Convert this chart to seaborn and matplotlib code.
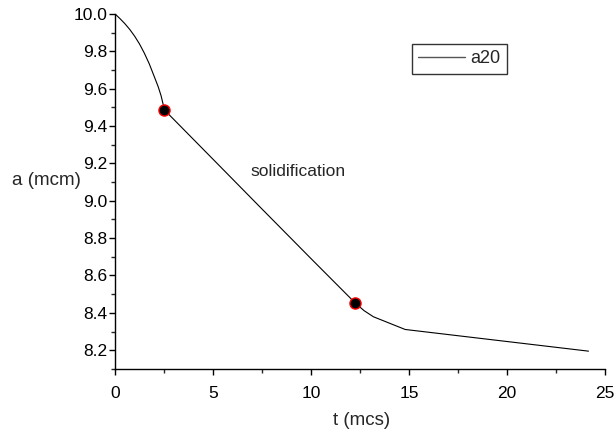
import matplotlib
matplotlib.use("Agg")
import matplotlib.pyplot as plt
import seaborn as sns
import pandas as pd
from matplotlib.ticker import MultipleLocator

# data
t_values = [0.0, 0.25, 0.5, 0.75, 1.0, 1.25, 1.5, 1.75, 2.0, 2.2, 2.35, 2.45, 2.52,
            5.0, 7.4, 10.0, 12.24, 12.7, 13.18, 14.8, 24.15]
a_values = [10.0, 9.975, 9.948, 9.917, 9.881, 9.839, 9.789, 9.732, 9.665, 9.611,
            9.562, 9.518, 9.486, 9.222, 8.966, 8.69, 8.454, 8.412, 8.379, 8.311, 8.195]
marker_t = [2.52, 12.24]
marker_a = [9.486, 8.454]
series_name = "a20"
annotation = "solidification"
annotation_pos = (9.35, 9.155)

sns.set_style("ticks")
plt.rcParams["font.family"] = ["Liberation Sans", "DejaVu Sans"]

df = pd.DataFrame({"t": t_values, "a": a_values, "series": series_name})

fig = plt.figure(figsize=(6.15, 4.34), dpi=100)
ax = fig.add_axes([0.187, 0.150, 0.797, 0.818])

sns.lineplot(data=df, x="t", y="a", color="black", linewidth=0.8, ax=ax,
             label=series_name, sort=False)
ax.plot(marker_t, marker_a, linestyle="none", marker="o", markersize=8,
        markerfacecolor="black", markeredgecolor="red", markeredgewidth=1.0,
        zorder=5)

ax.set_xlim(0, 25)
ax.set_ylim(8.1, 10.0)
ax.xaxis.set_major_locator(MultipleLocator(5))
ax.xaxis.set_minor_locator(MultipleLocator(2.5))
ax.yaxis.set_major_locator(MultipleLocator(0.2))
ax.yaxis.set_minor_locator(MultipleLocator(0.1))
ax.yaxis.set_major_formatter(matplotlib.ticker.FormatStrFormatter("%.1f"))

for s in ["top", "right"]:
    ax.spines[s].set_visible(False)
for s in ["left", "bottom"]:
    ax.spines[s].set_linewidth(1.0)
    ax.spines[s].set_color("black")

ax.tick_params(axis="both", which="major", direction="out", length=4.5, width=1.0,
               labelsize=12.5, colors="black")
ax.tick_params(axis="both", which="minor", direction="out", length=3.0, width=1.0)
ax.tick_params(axis="x", which="major", pad=8)
ax.tick_params(axis="y", which="major", pad=1)

ax.set_xlabel("t (mcs)", fontsize=13.5, va="center")
ax.set_ylabel("a (mcm)", fontsize=13.5, rotation=0, ha="center", va="center")
ax.xaxis.set_label_coords(0.504, -0.145)
ax.yaxis.set_label_coords(-0.139, 0.53)

ax.text(annotation_pos[0], annotation_pos[1], annotation, fontsize=12.5,
        ha="center", va="center")

leg = ax.legend(loc="center", bbox_to_anchor=(0.703, 0.873), fancybox=False,
                frameon=True, fontsize=13, handlelength=2.6, borderpad=0.35,
                handletextpad=0.3)
leg.get_frame().set_edgecolor("black")
leg.get_frame().set_linewidth(1.0)
for h in leg.get_lines():
    h.set_color("#555555")
    h.set_linewidth(1.0)

fig.savefig("out.png", dpi=100, facecolor="white")
